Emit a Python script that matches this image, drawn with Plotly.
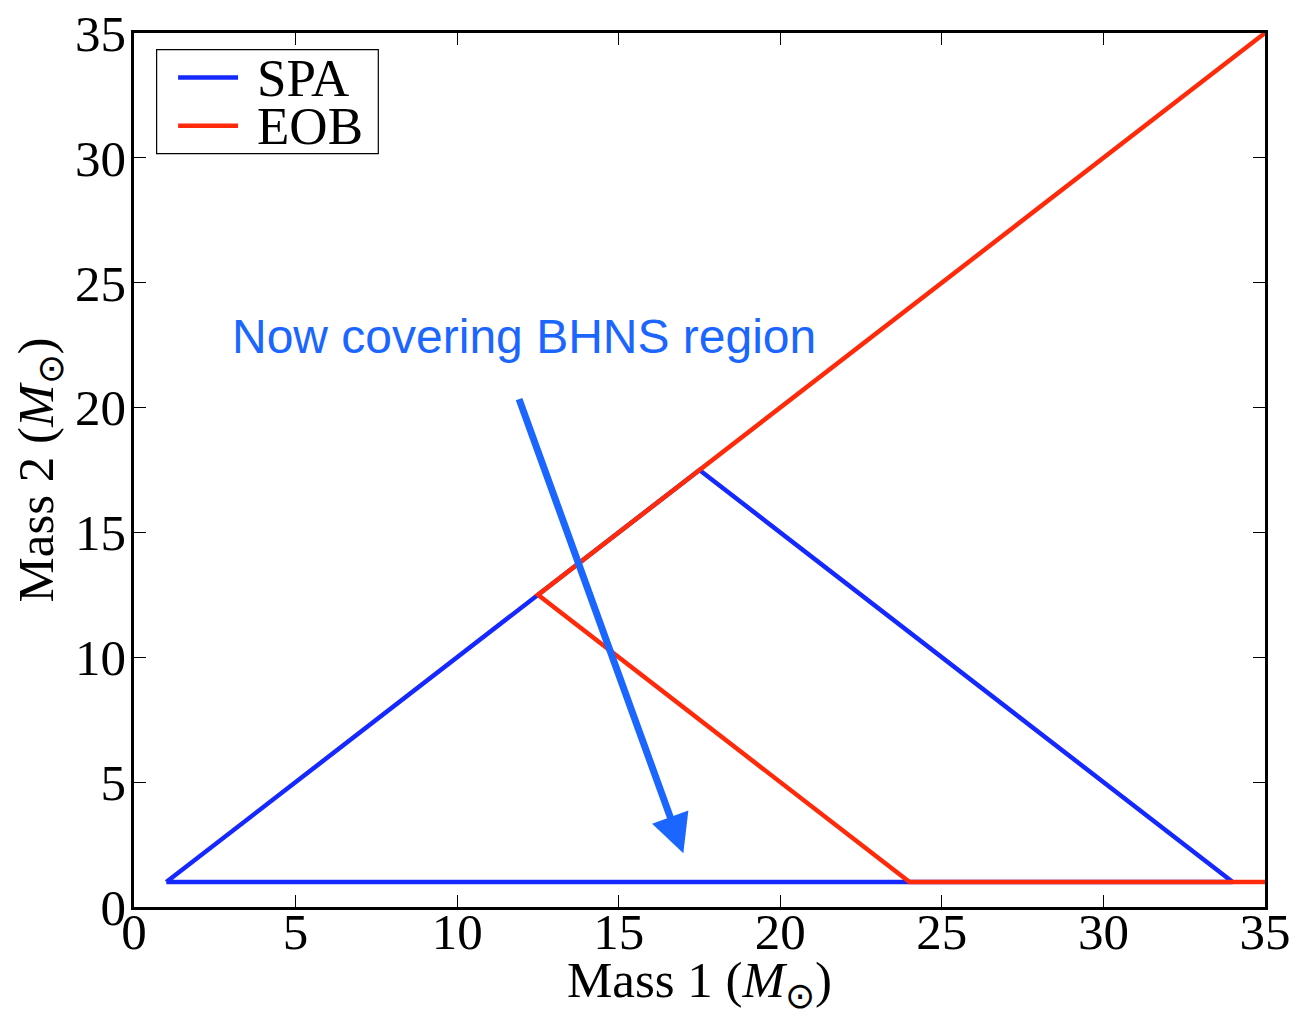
import plotly.graph_objects as go

# Template-bank boundaries in the (m1, m2) plane, solar masses
spa_m1 = [1, 17.5, 34, 1]
spa_m2 = [1, 17.5, 1, 1]
eob_m1 = [35, 12.5, 24, 35]
eob_m2 = [35, 12.5, 1, 1]

tick_vals = [0, 5, 10, 15, 20, 25, 30, 35]

# Arrow pointing into the low-mass-ratio strip
arrow_tail = (11.9, 20.4)
arrow_tip = (17.0, 2.15)

serif = "Liberation Serif"
tick_font = dict(family=serif, size=51, color="black")

series = [
    ("SPA", spa_m1, spa_m2, "#1428ff"),
    ("EOB", eob_m1, eob_m2, "#ff2a0a"),
]

fig = go.Figure()
for name, xs, ys, color in series:
    fig.add_trace(go.Scatter(x=xs, y=ys, mode="lines", name=name,
                             line=dict(color=color, width=4.5), showlegend=False))

axis_common = dict(
    range=[0, 35], tickvals=tick_vals, ticks="inside", ticklen=12, tickwidth=1.2,
    tickcolor="black", showline=True, linecolor="black", linewidth=2.5,
    mirror="ticks", showgrid=False, zeroline=False, tickfont=tick_font,
    automargin=False,
)

fig.update_xaxes(**axis_common, ticklabelstandoff=-22,
                 title=dict(text="Mass 1 (<i>M</i><sub>⊙</sub>)",
                            font=dict(family=serif, size=51, color="black"),
                            standoff=9))
fig.update_yaxes(**axis_common, ticklabelstandoff=-5,
                 title=dict(text="Mass 2 (<i>M</i><sub>⊙</sub>)",
                            font=dict(family=serif, size=51, color="black"),
                            standoff=6))

fig.add_annotation(x=arrow_tip[0], y=arrow_tip[1], ax=arrow_tail[0], ay=arrow_tail[1],
                   xref="x", yref="y", axref="x", ayref="y", text="",
                   showarrow=True, arrowhead=2, arrowsize=1.1, arrowwidth=7,
                   arrowcolor="#1a66ff", standoff=0)
fig.add_annotation(x=0.085, y=0.653, xref="paper", yref="paper",
                   xanchor="left", yanchor="middle", showarrow=False,
                   text="Now covering BHNS region",
                   font=dict(family="Liberation Sans", size=48, color="#1a66ff"))

# Legend box drawn in paper coordinates (upper-left corner of the axes)
legend_left, legend_right = 0.020, 0.216
legend_top, legend_bottom = 0.981, 0.862
row_y = [0.949, 0.894]
fig.add_shape(type="rect", xref="paper", yref="paper",
              x0=legend_left, x1=legend_right, y0=legend_bottom, y1=legend_top,
              line=dict(color="black", width=1.2), fillcolor="white")
for (name, _, _, color), yy in zip(series, row_y):
    fig.add_shape(type="line", xref="paper", yref="paper",
                  x0=0.039, x1=0.092, y0=yy, y1=yy,
                  line=dict(color=color, width=4.5))
    fig.add_annotation(x=0.107, y=yy, xref="paper", yref="paper",
                       xanchor="left", yanchor="middle", showarrow=False,
                       text=name, font=dict(family=serif, size=53, color="black"))

fig.update_layout(
    width=1291, height=1016,
    margin=dict(l=134, r=26, t=33, b=109),
    paper_bgcolor="white", plot_bgcolor="white",
    showlegend=False,
)

fig.write_html("out.html")
